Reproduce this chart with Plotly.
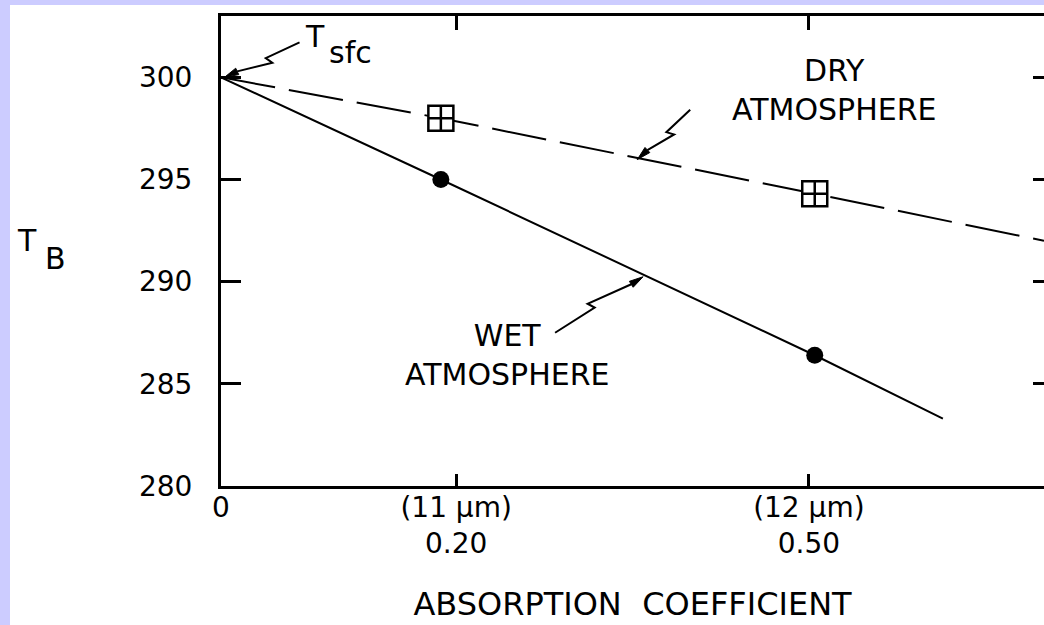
import math
import plotly.graph_objects as go

# ---------------- data ----------------
marker_x = [0.187, 0.505]          # absorption coefficient of the 11 / 12 um channels
dry_tb = [298.0, 294.3]            # brightness temperature, dry atmosphere
wet_tb = [295.0, 286.4]            # brightness temperature, wet atmosphere

dry_line_x = [0.0, 0.187, 0.505, 0.70]
dry_line_y = [300.0, 298.0, 294.3, 292.0]
wet_line_x = [0.0, 0.187, 0.505, 0.614]
wet_line_y = [300.0, 295.0, 286.4, 283.3]

y_tickvals = [280, 285, 290, 295, 300]
y_ticktext = ["280", "285", "290", "295", "300"]
x_tickvals = [0.0, 0.20, 0.50]
x_ticktext = ["0", "(11 \u00b5m)<br>0.20", "(12 \u00b5m)<br>0.50"]
x_title = "ABSORPTION  COEFFICIENT"

# ---------------- layout constants ----------------
W, H = 1044, 625
ML, MR, MT, MB = 221, 0, 16, 139
PW, PH = W - ML - MR, H - MT - MB
FONT = "DejaVu Sans"
BLACK = "#000000"
LAVENDER = "#CCCCFF"
XR = [0, 0.70]
YR = [280, 303]


def px2paper_x(px):
    return (px - ML) / PW


def px2paper_y(py):
    return (H - MB - py) / PH


fig = go.Figure()

fig.add_trace(go.Scatter(
    x=dry_line_x, y=dry_line_y, mode="lines",
    line=dict(color=BLACK, width=2, dash="55px,14px"),
    hoverinfo="skip", showlegend=False, xaxis="x", yaxis="y"))
fig.add_trace(go.Scatter(
    x=marker_x, y=dry_tb, mode="markers",
    marker=dict(symbol="square-cross", size=25, color="white",
                line=dict(color=BLACK, width=2.5)),
    showlegend=False, name="Dry atmosphere", xaxis="x", yaxis="y"))
fig.add_trace(go.Scatter(
    x=wet_line_x, y=wet_line_y, mode="lines",
    line=dict(color=BLACK, width=2),
    hoverinfo="skip", showlegend=False, xaxis="x2", yaxis="y2"))
fig.add_trace(go.Scatter(
    x=marker_x, y=wet_tb, mode="markers",
    marker=dict(symbol="circle", size=17, color=BLACK),
    showlegend=False, name="Wet atmosphere", xaxis="x2", yaxis="y2"))


def leader(hx, hy, tdx, tdy, xref="x", yref="y"):
    """Lightning-bolt leader from a label to a point; offsets in pixels (y up)."""
    L = math.hypot(tdx, tdy)
    dx, dy = -tdx / L, -tdy / L          # unit vector tail -> head
    nx, ny = -dy, dx                      # normal
    ax_, ay_ = tdx + 0.45 * L * dx, tdy + 0.45 * L * dy
    bx, by = ax_ - 4 * dx + 7 * nx, ay_ - 4 * dy + 7 * ny
    alen, aw = 14, 3.5
    cx, cy = -alen * dx, -alen * dy
    line_path = "M{:.1f},{:.1f} L{:.1f},{:.1f} L{:.1f},{:.1f} L{:.1f},{:.1f}".format(
        tdx, tdy, ax_, ay_, bx, by, cx, cy)
    head_path = "M0,0 L{:.1f},{:.1f} L{:.1f},{:.1f} Z".format(
        cx + aw * nx, cy + aw * ny, cx - aw * nx, cy - aw * ny)
    common = dict(type="path", xref=xref, yref=yref, xsizemode="pixel",
                  ysizemode="pixel", xanchor=hx, yanchor=hy)
    return [
        dict(path=line_path, line=dict(color=BLACK, width=2), **common),
        dict(path=head_path, line=dict(color=BLACK, width=1), fillcolor=BLACK, **common),
    ]


shapes = [dict(type="rect", xref="paper", yref="paper",
               x0=px2paper_x(10), x1=1.05, y0=-0.5, y1=px2paper_y(5),
               fillcolor="white", line=dict(width=0), layer="below")]
shapes += leader(0.003, 300.0, 75, 35)                 # T_sfc
shapes += leader(0.354, 295.97, 53, 50)                # dry
shapes += leader(0.359, 290.24, -88, -56, "x2", "y2")  # wet

txt = dict(family=FONT, size=30, color=BLACK)
annotations = [
    dict(text="DRY<br>ATMOSPHERE", x=0.521, y=299.40, xref="x", yref="y",
         showarrow=False, font=txt, align="center", xanchor="center", yanchor="middle"),
    dict(text="WET<br>ATMOSPHERE", x=0.243, y=286.41, xref="x", yref="y",
         showarrow=False, font=txt, align="center", xanchor="center", yanchor="middle"),
    dict(text="T", x=0.070, y=302.02, xref="x", yref="y", showarrow=False,
         font=txt, xanchor="left", yanchor="middle"),
    dict(text="sfc", x=0.090, y=301.20, xref="x", yref="y", showarrow=False,
         font=txt, xanchor="left", yanchor="middle"),
    dict(text="T", x=px2paper_x(27), y=px2paper_y(241), xref="paper", yref="paper",
         showarrow=False, font=txt, xanchor="center", yanchor="middle"),
    dict(text="B", x=px2paper_x(55), y=px2paper_y(258), xref="paper", yref="paper",
         showarrow=False, font=txt, xanchor="center", yanchor="middle"),
]

tickfont = dict(family=FONT, size=28, color=BLACK)
fig.update_layout(
    width=W, height=H,
    margin=dict(l=ML, r=MR, t=MT, b=MB, pad=0),
    paper_bgcolor=LAVENDER, plot_bgcolor="white",
    font=dict(family=FONT, color=BLACK),
    showlegend=False,
    xaxis=dict(range=XR, showline=True, linewidth=3, linecolor=BLACK,
               ticks="inside", ticklen=12, tickwidth=3, tickcolor=BLACK,
               tickvals=x_tickvals, ticktext=x_ticktext, tickfont=tickfont,
               showgrid=False, zeroline=False, ticklabelstandoff=-6,
               title=dict(text=x_title, font=dict(family=FONT, size=32, color=BLACK),
                          standoff=34)),
    xaxis2=dict(range=XR, overlaying="x", side="top", showline=True, linewidth=3,
                linecolor=BLACK, ticks="inside", ticklen=14, tickwidth=3,
                tickcolor=BLACK, tickvals=[0.20, 0.50], showticklabels=False,
                showgrid=False, zeroline=False),
    yaxis=dict(range=YR, showline=True, linewidth=3, linecolor=BLACK,
               ticks="inside", ticklen=20, tickwidth=3, tickcolor=BLACK,
               tickvals=y_tickvals, ticktext=y_ticktext, tickfont=tickfont,
               showgrid=False, zeroline=False, ticklabelstandoff=20),
    yaxis2=dict(range=YR, overlaying="y", side="right", showline=False,
                ticks="inside", ticklen=11, tickwidth=3, tickcolor=BLACK,
                tickvals=[285, 290, 295, 300], showticklabels=False,
                showgrid=False, zeroline=False),
    shapes=shapes,
    annotations=annotations,
)

fig.write_html(
    "out.html",
    config={"displayModeBar": False, "staticPlot": True},
    post_script="document.body.style.margin='0';document.body.style.padding='0';"
                "document.body.style.overflow='hidden';",
)
